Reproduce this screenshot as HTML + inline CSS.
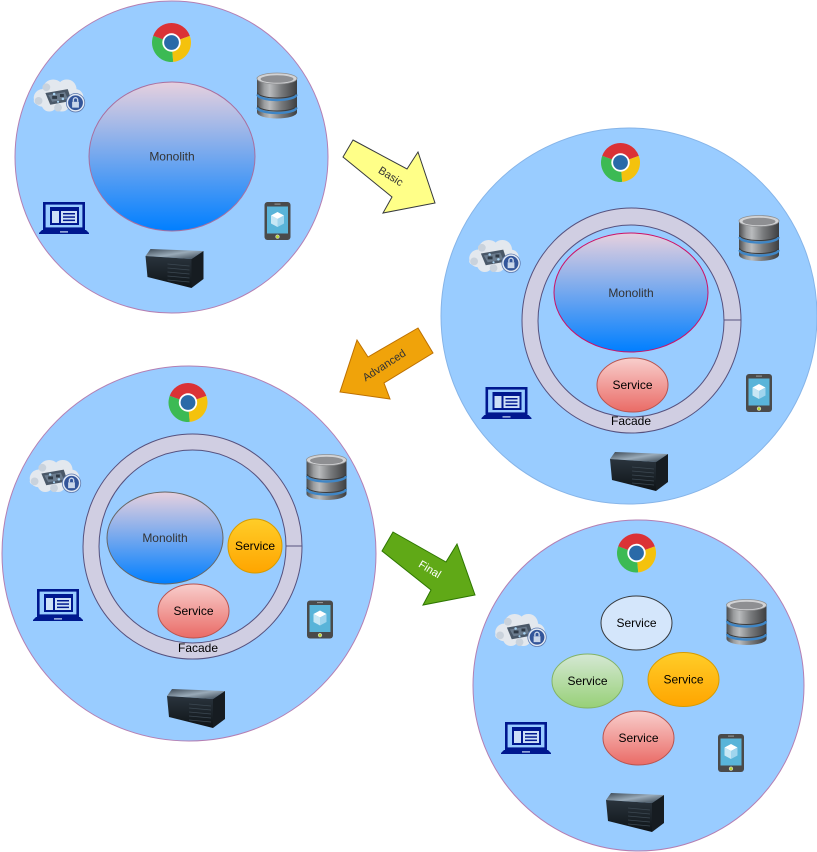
<!DOCTYPE html>
<html>
<head>
<meta charset="utf-8">
<style>
  html,body{margin:0;padding:0;background:#fff;}
  svg{display:block;}
  text{font-family:"Liberation Sans",Arial,sans-serif;}
</style>
</head>
<body>
<svg width="817" height="852" viewBox="0 0 817 852" xmlns="http://www.w3.org/2000/svg">
<defs>
  <linearGradient id="mono" x1="0" y1="0" x2="0" y2="1">
    <stop offset="0" stop-color="#E6D0DE"/>
    <stop offset="1" stop-color="#007FFF"/>
  </linearGradient>
  <linearGradient id="red" x1="0" y1="0" x2="0" y2="1">
    <stop offset="0" stop-color="#F8CECC"/>
    <stop offset="1" stop-color="#EA6B66"/>
  </linearGradient>
  <linearGradient id="orange" x1="0" y1="0" x2="0" y2="1">
    <stop offset="0" stop-color="#FFCD28"/>
    <stop offset="1" stop-color="#FFA500"/>
  </linearGradient>
  <linearGradient id="green" x1="0" y1="0" x2="0" y2="1">
    <stop offset="0" stop-color="#D5E8D4"/>
    <stop offset="1" stop-color="#97D077"/>
  </linearGradient>
  <linearGradient id="dbg" x1="0" y1="0" x2="1" y2="0">
    <stop offset="0" stop-color="#4a4b4d"/>
    <stop offset="0.18" stop-color="#9a9c9e"/>
    <stop offset="0.32" stop-color="#b9bbbd"/>
    <stop offset="0.6" stop-color="#7a7c7e"/>
    <stop offset="1" stop-color="#3d3e40"/>
  </linearGradient>
  <linearGradient id="srvtop" x1="0" y1="0" x2="1" y2="1">
    <stop offset="0" stop-color="#3a4652"/>
    <stop offset="0.5" stop-color="#9aabb9"/>
    <stop offset="1" stop-color="#34404b"/>
  </linearGradient>
  <linearGradient id="srvl" x1="0" y1="0" x2="0" y2="1">
    <stop offset="0" stop-color="#2a343d"/>
    <stop offset="1" stop-color="#0e1317"/>
  </linearGradient>

  <symbol id="chrome" viewBox="0 0 40 40">
    <path d="M20,20 L38.32,13.33 A19.5,19.5 0 0 0 1.68,13.33 Z" fill="#DB3236"/>
    <path d="M20,20 L1.68,13.33 A19.5,19.5 0 0 0 21.70,39.43 Z" fill="#3CBA54"/>
    <path d="M20,20 L21.70,39.43 A19.5,19.5 0 0 0 38.32,13.33 Z" fill="#F4C20D"/>
    <circle cx="20" cy="20" r="9.2" fill="#ffffff"/>
    <circle cx="20" cy="20" r="7.4" fill="#2A6AA8"/>
  </symbol>

  <symbol id="db" viewBox="0 0 41 47">
    <path d="M0.5,6 L0.5,40 A20,6 0 0 0 40.5,40 L40.5,6 Z" fill="url(#dbg)"/>
    <path d="M1,20 A19.5,5.5 0 0 0 40,20" fill="none" stroke="#3a3b3d" stroke-width="1"/>
    <path d="M1,22 A19.5,5.5 0 0 0 40,22" fill="none" stroke="#3f86c6" stroke-width="2.4"/>
    <path d="M1,33 A19.5,5.5 0 0 0 40,33" fill="none" stroke="#3a3b3d" stroke-width="1"/>
    <path d="M1,35 A19.5,5.5 0 0 0 40,35" fill="none" stroke="#3f86c6" stroke-width="2.4"/>
    <ellipse cx="20.5" cy="6" rx="20" ry="5.5" fill="#d2d3d5" stroke="#8f9092" stroke-width="0.8"/>
    <ellipse cx="20.5" cy="6.5" rx="16.5" ry="3.8" fill="#8e8f92"/>
  </symbol>

  <symbol id="cloud" viewBox="0 0 54 36">
    <g fill="#e3e8ee">
      <circle cx="10" cy="21" r="9"/>
      <circle cx="21" cy="13" r="11"/>
      <circle cx="35" cy="12" r="10"/>
      <circle cx="44" cy="20" r="8"/>
      <circle cx="17" cy="27" r="8"/>
      <circle cx="30" cy="27" r="8"/>
      <ellipse cx="26" cy="24" rx="25" ry="8"/>
    </g>
    <g fill="#c9d2dc">
      <circle cx="6" cy="24" r="4"/>
      <circle cx="26" cy="31" r="4"/>
      <circle cx="14" cy="10" r="4"/>
    </g>
    <polygon points="13,16 36,12 40,24 18,28" fill="#4a5868"/>
    <polygon points="16,18 33,15 36,22 20,25" fill="#6b7c8e"/>
    <rect x="20" y="19" width="5" height="3" fill="#2f3a46"/>
    <rect x="28" y="17" width="4" height="3" fill="#2f3a46"/>
    <circle cx="22" cy="17" r="1.3" fill="#a9d3f2"/>
    <circle cx="31" cy="22" r="1.3" fill="#a9d3f2"/>
    <circle cx="26" cy="25" r="1.1" fill="#a9d3f2"/>
    <circle cx="44" cy="26" r="9.5" fill="#e3eaf4" stroke="#5a77ad" stroke-width="0.8"/>
    <circle cx="44" cy="26" r="7.6" fill="#33559a"/>
    <rect x="40.5" y="25" width="7" height="6" fill="#c9d6ea"/>
    <path d="M41.8,25 v-2 a2.2,2.2 0 0 1 4.4,0 v2" fill="none" stroke="#c9d6ea" stroke-width="1.4"/>
  </symbol>

  <symbol id="laptop" viewBox="0 0 50 32">
    <rect x="5.3" y="1.3" width="39.4" height="25.4" fill="none" stroke="#00188F" stroke-width="2.6"/>
    <rect x="11" y="5" width="29" height="18" fill="#00188F"/>
    <rect x="13" y="9" width="7" height="12" fill="#cde0f7"/>
    <rect x="22" y="9" width="16" height="12" fill="#cde0f7"/>
    <rect x="24" y="11" width="12" height="1.5" fill="#00188F"/>
    <rect x="24" y="14.3" width="12" height="1.5" fill="#00188F"/>
    <rect x="24" y="17.6" width="12" height="1.5" fill="#00188F"/>
    <polygon points="3,28 47,28 50,31 50,32 0,32 0,31" fill="#00188F"/>
    <rect x="21" y="29.3" width="8" height="1.2" fill="#cde0f7"/>
  </symbol>

  <symbol id="phone" viewBox="0 0 26 38">
    <rect x="0" y="0" width="26" height="38" rx="3" fill="#4a4a4a"/>
    <rect x="10" y="1.6" width="6" height="1" fill="#9a9a9a"/>
    <rect x="2.5" y="4.5" width="21" height="27" fill="#59B4D9"/>
    <polygon points="13,10 19.5,13.5 13,17 6.5,13.5" fill="#ffffff"/>
    <polygon points="6.5,13.5 13,17 13,25 6.5,21.5" fill="#c7e7f5"/>
    <polygon points="13,17 19.5,13.5 19.5,21.5 13,25" fill="#a0d5ee"/>
    <circle cx="13" cy="34.7" r="1.8" fill="#b8d432" stroke="#dddddd" stroke-width="0.6"/>
  </symbol>

  <symbol id="server" viewBox="0 0 60 42">
    <polygon points="5,2 58,4 46,12 0,9" fill="url(#srvtop)"/>
    <polygon points="0,9 46,12 46,41 2,30" fill="url(#srvl)"/>
    <polygon points="46,12 58,4 58,32 46,41" fill="#161c21"/>
    <g stroke="#3c4852" stroke-width="0.8">
      <line x1="22" y1="17" x2="44" y2="19"/>
      <line x1="22" y1="21" x2="44" y2="23"/>
      <line x1="22" y1="25" x2="44" y2="27"/>
      <line x1="22" y1="29" x2="44" y2="31"/>
      <line x1="22" y1="33" x2="44" y2="35"/>
    </g>
  </symbol>
</defs>

<!-- ================= Circle 1 ================= -->
<ellipse cx="171.5" cy="157" rx="156.5" ry="156" fill="#99CCFF" stroke="#B47FB3" stroke-width="1"/>
<ellipse cx="172" cy="156.5" rx="83" ry="74.5" fill="url(#mono)" stroke="#A86F9F" stroke-width="1"/>
<text x="172" y="160.5" font-size="12" fill="#333333" text-anchor="middle">Monolith</text>
<use href="#chrome" x="151.5" y="22" width="40" height="41"/>
<use href="#db" x="256.5" y="72.5" width="41" height="47"/>
<use href="#cloud" x="32" y="77.5" width="54" height="35"/>
<use href="#laptop" x="39" y="202" width="50" height="32"/>
<use href="#phone" x="264.5" y="202" width="26" height="38"/>
<use href="#server" x="145.5" y="247" width="60" height="42"/>

<!-- ================= Basic arrow ================= -->
<polygon points="353,140 407,169 418,152 435,203 383,213 392,197 343,157" fill="#FFFF88" stroke="#36393D" stroke-width="1"/>
<text x="391" y="180" font-size="11" fill="#333333" text-anchor="middle" transform="rotate(32 391 176)">Basic</text>

<!-- ================= Circle 2 ================= -->
<ellipse cx="629" cy="316" rx="188" ry="188" fill="#99CCFF" stroke="#86B4E8" stroke-width="1"/>
<ellipse cx="631.5" cy="320.5" rx="109.5" ry="112.5" fill="#D0CEE2" stroke="#56517E" stroke-width="1"/>
<ellipse cx="631" cy="321" rx="93" ry="96" fill="#99CCFF" stroke="#56517E" stroke-width="1"/>
<line x1="724" y1="320" x2="741" y2="320" stroke="#56517E" stroke-width="1"/>
<ellipse cx="631" cy="292.5" rx="77" ry="59.5" fill="url(#mono)" stroke="#CC1166" stroke-width="1"/>
<text x="631" y="297" font-size="12" fill="#333333" text-anchor="middle">Monolith</text>
<ellipse cx="632.5" cy="385" rx="35.5" ry="27" fill="url(#red)" stroke="#B85450" stroke-width="1"/>
<text x="632.5" y="389" font-size="12" fill="#000000" text-anchor="middle">Service</text>
<text x="631" y="425" font-size="12" fill="#000000" text-anchor="middle">Facade</text>
<use href="#chrome" x="600.5" y="142" width="40" height="41"/>
<use href="#db" x="738.5" y="215" width="41" height="47"/>
<use href="#cloud" x="467.5" y="238" width="54" height="35"/>
<use href="#laptop" x="481.5" y="387" width="50" height="32"/>
<use href="#phone" x="746" y="374" width="26" height="38"/>
<use href="#server" x="610" y="450" width="60" height="42"/>

<!-- ================= Advanced arrow ================= -->
<polygon points="418,328 433,353 384,383 390,399 340,392 357,340 368,357" fill="#F0A30A" stroke="#BD7000" stroke-width="1"/>
<text x="384" y="369" font-size="11" fill="#333333" text-anchor="middle" transform="rotate(-33 384 365)">Advanced</text>

<!-- ================= Circle 3 ================= -->
<ellipse cx="189" cy="553.5" rx="187" ry="187.5" fill="#99CCFF" stroke="#B47FB3" stroke-width="1"/>
<ellipse cx="192.5" cy="546.5" rx="109.5" ry="112.5" fill="#D0CEE2" stroke="#56517E" stroke-width="1"/>
<ellipse cx="192.5" cy="546.5" rx="93.5" ry="96.5" fill="#99CCFF" stroke="#56517E" stroke-width="1"/>
<line x1="286" y1="546" x2="302" y2="546" stroke="#56517E" stroke-width="1"/>
<ellipse cx="165" cy="538" rx="58" ry="46" fill="url(#mono)" stroke="#666666" stroke-width="1"/>
<text x="165" y="542" font-size="12" fill="#333333" text-anchor="middle">Monolith</text>
<ellipse cx="255" cy="546" rx="27" ry="27" fill="url(#orange)" stroke="#D79B00" stroke-width="1"/>
<text x="255" y="550" font-size="12" fill="#000000" text-anchor="middle">Service</text>
<ellipse cx="193.5" cy="611" rx="35.5" ry="27" fill="url(#red)" stroke="#B85450" stroke-width="1"/>
<text x="193.5" y="615" font-size="12" fill="#000000" text-anchor="middle">Service</text>
<text x="198" y="652" font-size="12" fill="#000000" text-anchor="middle">Facade</text>
<use href="#chrome" x="168" y="382" width="40" height="41"/>
<use href="#db" x="306" y="454" width="41" height="47"/>
<use href="#cloud" x="28" y="458" width="54" height="35"/>
<use href="#laptop" x="33" y="589" width="50" height="32"/>
<use href="#phone" x="307" y="600.5" width="26" height="38"/>
<use href="#server" x="167" y="687" width="60" height="42"/>

<!-- ================= Final arrow ================= -->
<polygon points="393,532 446,562 457,544 475,595 423,605 431,590 382,551" fill="#60A917" stroke="#2D7600" stroke-width="1"/>
<text x="430" y="573" font-size="11" fill="#ffffff" text-anchor="middle" transform="rotate(31 430 569)">Final</text>

<!-- ================= Circle 4 ================= -->
<ellipse cx="638.5" cy="685.5" rx="165.5" ry="165.5" fill="#99CCFF" stroke="#B47FB3" stroke-width="1"/>
<ellipse cx="636.5" cy="623" rx="35.5" ry="27" fill="#D4E6FB" stroke="#36393D" stroke-width="1"/>
<text x="636.5" y="627" font-size="12" fill="#000000" text-anchor="middle">Service</text>
<ellipse cx="587.5" cy="681" rx="35.5" ry="27" fill="url(#green)" stroke="#82B366" stroke-width="1"/>
<text x="587.5" y="685" font-size="12" fill="#000000" text-anchor="middle">Service</text>
<ellipse cx="683.5" cy="679.5" rx="35.5" ry="27" fill="url(#orange)" stroke="#D79B00" stroke-width="1"/>
<text x="683.5" y="683.5" font-size="12" fill="#000000" text-anchor="middle">Service</text>
<ellipse cx="638.5" cy="738" rx="35.5" ry="27" fill="url(#red)" stroke="#B85450" stroke-width="1"/>
<text x="638.5" y="742" font-size="12" fill="#000000" text-anchor="middle">Service</text>
<use href="#chrome" x="616.5" y="532.5" width="40" height="41"/>
<use href="#db" x="726" y="599" width="41" height="47"/>
<use href="#cloud" x="493.5" y="612" width="54" height="35"/>
<use href="#laptop" x="501" y="722" width="50" height="32"/>
<use href="#phone" x="718" y="734" width="26" height="38"/>
<use href="#server" x="606" y="791" width="60" height="42"/>
</svg>
</body>
</html>
